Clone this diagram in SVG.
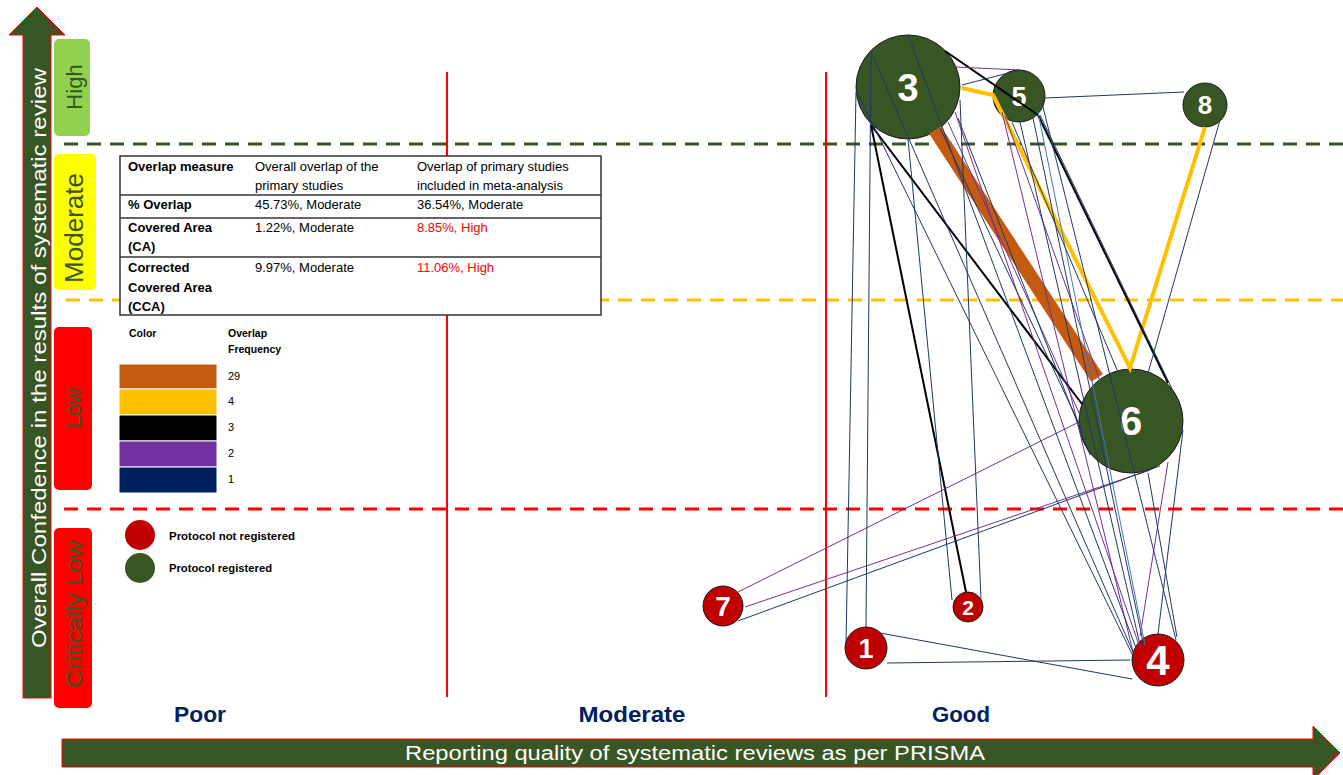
<svg xmlns="http://www.w3.org/2000/svg" width="1343" height="775" viewBox="0 0 1343 775">
<style>
.f{font-family:"Liberation Sans",Arial,sans-serif}
.tb{font-size:13px;fill:#000}
.b{font-weight:bold}
.red{fill:#FF0000}
.lg{font-size:10.5px;font-weight:bold;fill:#000}
.nl{font-weight:bold;fill:#fff;text-anchor:middle}
.cr{fill:#C00000;stroke:#1a1a1a;stroke-width:1}
.cg{fill:#375623;stroke:#1a1a1a;stroke-width:1}
.n{stroke:#1F3864;stroke-width:1;fill:none}
.nl2{stroke:#4472C4;stroke-width:1;fill:none}
.p{stroke:#7030A0;stroke-width:1;fill:none}
.k{stroke:#000;stroke-width:2;fill:none}
.lvl{fill:#375623;text-anchor:middle}
.ax{fill:#375623;stroke:#FF0000;stroke-width:1}
.q{font-weight:bold;fill:#002060;font-size:22px;text-anchor:middle}
.dash{stroke-width:3;stroke-dasharray:14 9;fill:none}
</style>
<rect width="1343" height="775" fill="#fff"/>

<!-- guide lines -->
<g id="guides">
<line class="dash" x1="64" y1="144" x2="1343" y2="144" stroke="#375623"/>
<line class="dash" x1="66" y1="300" x2="1343" y2="300" stroke="#FFC000"/>
<line class="dash" x1="64" y1="509" x2="1343" y2="509" stroke="#FF0000"/>
<line x1="447" y1="72" x2="447" y2="697" stroke="#FF0000" stroke-width="2"/>
<line x1="826" y1="72" x2="826" y2="697" stroke="#FF0000" stroke-width="2"/>
</g>

<!-- y axis -->
<g id="y-axis">
<polygon class="ax" points="23,698 23,35 9,35 37,7 65,35 51,35 51,698"/>
<text class="f" transform="translate(46,358) rotate(-90)" text-anchor="middle" font-size="20" fill="#fff" textLength="580" lengthAdjust="spacingAndGlyphs">Overall Confedence in the results of systematic review</text>
</g>

<!-- levels -->
<g id="level-high">
<rect x="54" y="39" width="36" height="97" rx="5" fill="#92D050"/>
<text class="f lvl" transform="translate(82,87) rotate(-90)" font-size="22">High</text>
</g>
<g id="level-moderate">
<rect x="54" y="154" width="42" height="136" rx="5" fill="#FFFF00"/>
<text class="f lvl" transform="translate(83,228) rotate(-90)" font-size="25" textLength="110" lengthAdjust="spacingAndGlyphs">Moderate</text>
</g>
<g id="level-low">
<rect x="54" y="327" width="38" height="163" rx="5" fill="#FF0000"/>
<text class="f lvl" transform="translate(81,408) rotate(-90)" font-size="22">Low</text>
</g>
<g id="level-critical">
<rect x="54" y="528" width="38" height="180" rx="5" fill="#FF0000"/>
<text class="f lvl" transform="translate(82,614) rotate(-90)" font-size="22" textLength="148" lengthAdjust="spacingAndGlyphs">Critically Low</text>
</g>

<!-- table -->
<g id="table" class="f">
<rect x="120" y="156" width="481" height="159" fill="#fff" stroke="#333" stroke-width="1.5"/>
<line x1="120" y1="195" x2="601" y2="195" stroke="#333" stroke-width="1.5"/>
<line x1="120" y1="218" x2="601" y2="218" stroke="#333" stroke-width="1.5"/>
<line x1="120" y1="257" x2="601" y2="257" stroke="#333" stroke-width="1.5"/>
<text class="tb b" x="128" y="171">Overlap measure</text>
<text class="tb" x="255" y="171">Overall overlap of the</text>
<text class="tb" x="255" y="190">primary studies</text>
<text class="tb" x="417" y="171">Overlap of primary studies</text>
<text class="tb" x="417" y="190">included in meta-analysis</text>
<text class="tb b" x="128" y="209">% Overlap</text>
<text class="tb" x="255" y="209">45.73%, Moderate</text>
<text class="tb" x="417" y="209">36.54%, Moderate</text>
<text class="tb b" x="128" y="232">Covered Area</text>
<text class="tb b" x="128" y="251">(CA)</text>
<text class="tb" x="255" y="232">1.22%, Moderate</text>
<text class="tb red" x="417" y="232">8.85%, High</text>
<text class="tb b" x="128" y="272">Corrected</text>
<text class="tb b" x="128" y="292">Covered Area</text>
<text class="tb b" x="128" y="311">(CCA)</text>
<text class="tb" x="255" y="272">9.97%, Moderate</text>
<text class="tb red" x="417" y="272">11.06%, High</text>
</g>

<!-- legend -->
<g id="legend" class="f">
<text class="lg" x="129" y="337">Color</text>
<text class="lg" x="228" y="337">Overlap</text>
<text class="lg" x="228" y="353">Frequency</text>
<rect x="119" y="364" width="98" height="25" fill="#C55A11" stroke="#fff" stroke-width="1"/>
<rect x="119" y="389" width="98" height="26" fill="#FFC000" stroke="#fff" stroke-width="1"/>
<rect x="119" y="415" width="98" height="26" fill="#000000" stroke="#fff" stroke-width="1"/>
<rect x="119" y="441" width="98" height="26" fill="#7030A0" stroke="#fff" stroke-width="1"/>
<rect x="119" y="467" width="98" height="26" fill="#002060" stroke="#fff" stroke-width="1"/>
<text class="f" font-size="11" x="228" y="380">29</text>
<text class="f" font-size="11" x="228" y="405">4</text>
<text class="f" font-size="11" x="228" y="431">3</text>
<text class="f" font-size="11" x="228" y="457">2</text>
<text class="f" font-size="11" x="228" y="483">1</text>
<circle cx="140" cy="535" r="15" fill="#C00000"/>
<circle cx="140" cy="568" r="15" fill="#375623"/>
<text class="lg" x="169" y="540" textLength="126" lengthAdjust="spacingAndGlyphs">Protocol  not registered</text>
<text class="lg" x="169" y="572" textLength="103" lengthAdjust="spacingAndGlyphs">Protocol  registered</text>
</g>

<!-- nodes -->
<g id="node-3"><circle class="cg" cx="908" cy="87" r="52"/><text class="f nl" x="908" y="101" font-size="38">3</text></g>
<g id="node-5"><circle class="cg" cx="1019" cy="96" r="26"/><text class="f nl" x="1019" y="106" font-size="27">5</text></g>
<g id="node-8"><circle class="cg" cx="1205" cy="105" r="22"/><text class="f nl" x="1205" y="114" font-size="26">8</text></g>
<g id="node-6"><circle class="cg" cx="1131" cy="421" r="52"/><text class="f nl" x="1131" y="435" font-size="40">6</text></g>
<g id="node-7"><circle class="cr" cx="723" cy="606" r="20"/><text class="f nl" x="723" y="616" font-size="28">7</text></g>
<g id="node-2"><circle class="cr" cx="968" cy="607" r="15"/><text class="f nl" x="968" y="615" font-size="21">2</text></g>
<g id="node-1"><circle class="cr" cx="866" cy="648" r="21"/><text class="f nl" x="866" y="658" font-size="27">1</text></g>
<g id="node-4"><circle class="cr" cx="1158" cy="660" r="26"/><text class="f nl" x="1158" y="675" font-size="42">4</text></g>

<!-- connectors -->
<g id="connectors">
<line x1="935" y1="130" x2="1097" y2="378" stroke="#C55A11" stroke-width="14"/>
<polyline points="962,88 993,95 1130,368 1205,127" stroke="#FFC000" stroke-width="4" fill="none"/>
<line class="k" x1="945" y1="51" x2="1038" y2="115"/>
<line class="k" x1="1038" y1="115" x2="1168" y2="383"/>
<line class="k" x1="871" y1="125" x2="1082" y2="404"/>
<line class="k" x1="871" y1="125" x2="966" y2="592"/>
<line class="p" x1="955" y1="67" x2="1020" y2="70"/>
<line class="p" x1="738" y1="592" x2="1079" y2="422"/>
<line class="p" x1="745" y1="607" x2="1150" y2="470"/>
<line class="p" x1="955" y1="112" x2="1140" y2="648"/>
<line class="p" x1="1002" y1="112" x2="1133" y2="652"/>
<line class="p" x1="1005" y1="116" x2="1100" y2="381"/>
<line class="p" x1="1168" y1="462" x2="1140" y2="636"/>
<line class="p" x1="948" y1="122" x2="1080" y2="415"/>
<line class="n" x1="856" y1="92" x2="846" y2="644"/>
<line class="n" x1="871" y1="52" x2="866" y2="627"/>
<line class="n" x1="871" y1="52" x2="1133" y2="652"/>
<line class="n" x1="856" y1="90" x2="1135" y2="660"/>
<line class="n" x1="908" y1="139" x2="952" y2="600"/>
<line class="n" x1="960" y1="100" x2="981" y2="600"/>
<line class="n" x1="908" y1="35" x2="1136" y2="648"/>
<line class="n" x1="962" y1="85" x2="1020" y2="70"/>
<line class="n" x1="940" y1="128" x2="1082" y2="430"/>
<line class="n" x1="958" y1="118" x2="1090" y2="455"/>
<line class="n" x1="1045" y1="98" x2="1184" y2="92"/>
<line class="n" x1="1020" y1="122" x2="1140" y2="645"/>
<line class="n" x1="1033" y1="118" x2="1143" y2="642"/>
<line class="nl2" x1="1038" y1="112" x2="1145" y2="645"/>
<line class="n" x1="1042" y1="103" x2="1176" y2="640"/>
<line class="n" x1="1040" y1="115" x2="1175" y2="395"/>
<line class="n" x1="1012" y1="122" x2="1118" y2="372"/>
<line class="n" x1="1220" y1="120" x2="1148" y2="373"/>
<line class="n" x1="1148" y1="473" x2="1177" y2="637"/>
<line class="n" x1="1183" y1="430" x2="1158" y2="634"/>
<line class="n" x1="738" y1="621" x2="1160" y2="466"/>
<line class="n" x1="880" y1="633" x2="1132" y2="679"/>
<line class="n" x1="887" y1="663" x2="1130" y2="660"/>
</g>

<!-- x axis -->
<g id="x-axis">
<polygon class="ax" points="62,739 1313,739 1313,726 1340,753 1313,780 1313,767 62,767"/>
<text class="f" x="695" y="760" text-anchor="middle" font-size="20" fill="#fff" textLength="580" lengthAdjust="spacingAndGlyphs">Reporting quality of systematic reviews as per PRISMA</text>
</g>
<g id="x-labels">
<text class="f q" x="200" y="722" textLength="52" lengthAdjust="spacingAndGlyphs">Poor</text>
<text class="f q" x="632" y="722" textLength="107" lengthAdjust="spacingAndGlyphs">Moderate</text>
<text class="f q" x="961" y="722" textLength="58" lengthAdjust="spacingAndGlyphs">Good</text>
</g>
</svg>
